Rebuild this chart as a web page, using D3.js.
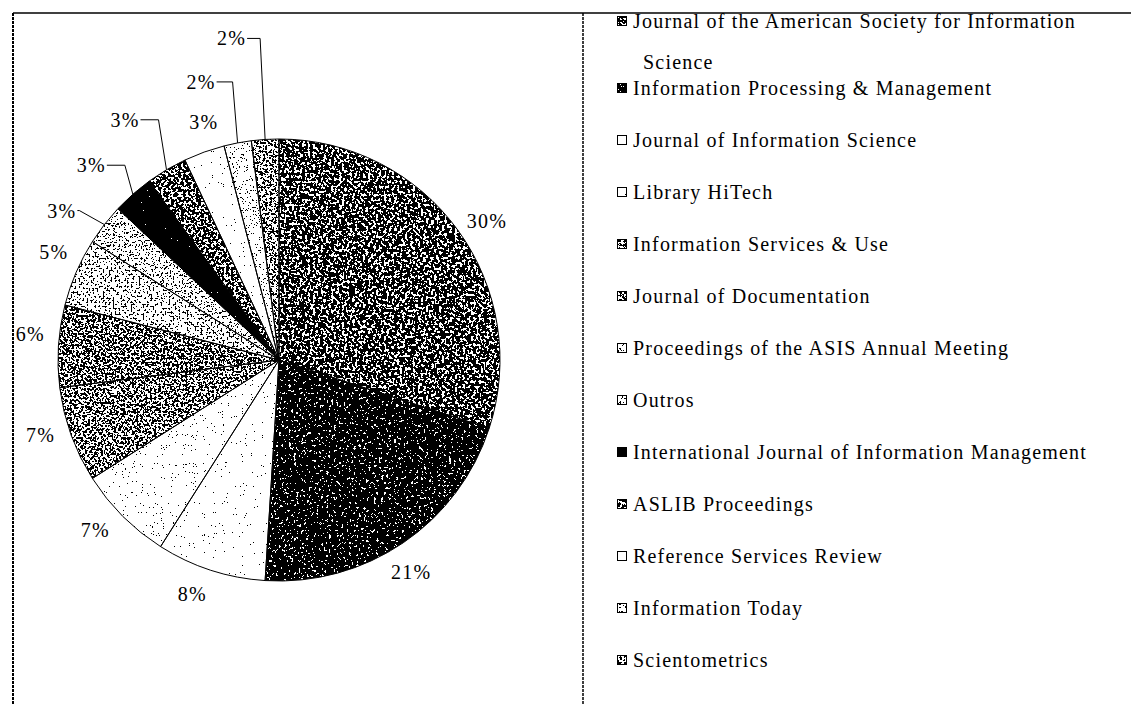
<!DOCTYPE html>
<html>
<head>
<meta charset="utf-8">
<script src="https://cdn.jsdelivr.net/npm/d3@7"></script>
<style>
  html, body { margin: 0; padding: 0; background: #fff; }
  svg text {
    font-family: "Liberation Serif", "Times New Roman", serif;
    font-size: 20px;
    letter-spacing: 1.2px;
    fill: #000;
  }
</style>
</head>
<body>
<svg id="chart" width="1131" height="704"></svg>
<script>
// journals, clockwise from 12 o'clock (same order as the legend)
var journals = [
  "Journal of the American Society for Information Science",
  "Information Processing & Management",
  "Journal of Information Science",
  "Library HiTech",
  "Information Services & Use",
  "Journal of Documentation",
  "Proceedings of the ASIS Annual Meeting",
  "Outros",
  "International Journal of Information Management",
  "ASLIB Proceedings",
  "Reference Services Review",
  "Information Today",
  "Scientometrics"
];
var shares = [30, 21, 8, 7, 7, 6, 5, 3, 3, 3, 3, 2, 2];
var pctLabels = ["30%", "21%", "8%", "7%", "7%", "6%", "5%", "3%", "3%", "3%", "3%", "2%", "2%"];

// stipple of each slice: share of black pixels, grain frequency
var darkness = [0.66, 0.88, 0.02, 0.035, 0.48, 0.52, 0.28, 0.2, 0.985, 0.58, 0.02, 0.1, 0.42];
var grain    = [0.38, 0.4, 0.9, 0.9, 0.45, 0.45, 0.5, 0.55, 0.5, 0.4, 0.9, 0.7, 0.45];

// leader lines for the small slices: [dx, rise, tail]
var leaders = {
  "Outros": [-25, 14, 2],
  "International Journal of Information Management": [-8, 29, 18],
  "ASLIB Proceedings": [-8, 50, 18],
  "Information Today": [-5, 61, 16],
  "Scientometrics": [-5, 101, 13]
};

var W = 1131, H = 704;
var cx = 279, cy = 360, R = 221, labelR = 250;

var data = journals.map(function(name, i) {
  return { name: name, value: shares[i], label: pctLabels[i], dark: darkness[i], freq: grain[i] };
});

var svg = d3.select("#chart");
var defs = svg.append("defs");

// inverse normal cdf, rough (Winitzki)
function probit(p) {
  var x = 2 * p - 1, a = 0.147;
  var ln = Math.log(1 - x * x);
  var t = 2 / (Math.PI * a) + ln / 2;
  var e = Math.sign(x) * Math.sqrt(Math.sqrt(t * t - ln / a) - t);
  return Math.SQRT2 * e;
}

// one noise texture filter per slice
data.forEach(function(d, i) {
  var p = Math.min(0.998, Math.max(0.002, d.dark));
  var thr = 0.5 + 0.13 * probit(p);
  var n = 400, table = [];
  for (var k = 0; k < n; k++) table.push(k / n < thr ? 0 : 1);

  var f = defs.append("filter")
    .attr("id", "tex" + i)
    .attr("color-interpolation-filters", "sRGB")
    .attr("x", "-5%").attr("y", "-5%")
    .attr("width", "110%").attr("height", "110%");
  f.append("feTurbulence")
    .attr("type", "fractalNoise")
    .attr("baseFrequency", d.freq)
    .attr("numOctaves", 2)
    .attr("seed", i * 7 + 3)
    .attr("result", "noise");
  f.append("feColorMatrix")
    .attr("in", "noise")
    .attr("type", "matrix")
    .attr("values", "1 0 0 0 0  1 0 0 0 0  1 0 0 0 0  0 0 0 0 1")
    .attr("result", "gray");
  var ct = f.append("feComponentTransfer").attr("in", "gray").attr("result", "bw");
  ["feFuncR", "feFuncG", "feFuncB"].forEach(function(fn) {
    ct.append(fn).attr("type", "discrete").attr("tableValues", table.join(" "));
  });
  f.append("feComposite")
    .attr("in", "bw").attr("in2", "SourceAlpha").attr("operator", "in");
});

// frame
svg.append("line")
  .attr("x1", 13).attr("x2", W).attr("y1", 13).attr("y2", 13)
  .attr("stroke", "#000").attr("stroke-width", 1.5);
svg.append("line")
  .attr("x1", 13).attr("x2", 13).attr("y1", 13).attr("y2", H)
  .attr("stroke", "#000").attr("stroke-width", 2)
  .attr("stroke-dasharray", "3 1");
svg.append("line")
  .attr("x1", 583).attr("x2", 583).attr("y1", 13).attr("y2", H)
  .attr("stroke", "#000").attr("stroke-width", 1.5)
  .attr("stroke-dasharray", "3 1");

// pie
var pie = d3.pie().sort(null).value(function(d) { return d.value; });
var arcs = pie(data);
var arc = d3.arc().innerRadius(0).outerRadius(R);

var g = svg.append("g").attr("transform", "translate(" + cx + "," + cy + ")");

g.selectAll("path.slice")
  .data(arcs)
  .enter()
  .append("path")
  .attr("class", "slice")
  .attr("d", arc)
  .attr("fill", "#fff")
  .attr("filter", function(d, i) { return "url(#tex" + i + ")"; });

g.selectAll("path.edge")
  .data(arcs)
  .enter()
  .append("path")
  .attr("class", "edge")
  .attr("d", arc)
  .attr("fill", "none")
  .attr("stroke", "#000")
  .attr("stroke-width", 1);

function polar(a, r) {
  return [r * Math.sin(a), -r * Math.cos(a)];
}

// percent labels
arcs.forEach(function(d) {
  var mid = (d.startAngle + d.endAngle) / 2;
  var lead = leaders[d.data.name];
  if (lead) {
    var e = polar(mid, R);
    var elbow = [e[0] + lead[0], e[1] - lead[1]];
    var end = [elbow[0] - lead[2], elbow[1]];
    g.append("path")
      .attr("d", d3.line()([e, elbow, end]))
      .attr("fill", "none")
      .attr("stroke", "#000")
      .attr("stroke-width", 1);
    g.append("text")
      .attr("x", end[0] - 1)
      .attr("y", end[1])
      .attr("dy", "0.35em")
      .attr("text-anchor", "end")
      .text(d.data.label);
  } else {
    var p = polar(mid + 0.04, labelR);
    g.append("text")
      .attr("x", p[0])
      .attr("y", p[1])
      .attr("dy", "0.35em")
      .attr("text-anchor", "middle")
      .text(d.data.label);
  }
});

// legend
var legX = 617, textX = 633, maxW = W - textX - 6;
var rowY = d3.scaleLinear().domain([0, 1]).range([36, 88]);
var legend = svg.append("g");

data.forEach(function(d, i) {
  var yc = rowY(i);
  var t = legend.append("text").attr("x", textX);
  // wrap by measured width
  var words = d.name.split(" "), lines = [], cur = "";
  var probe = legend.append("text").attr("x", -999);
  words.forEach(function(w) {
    var test = cur ? cur + " " + w : w;
    probe.text(test);
    if (probe.node().getComputedTextLength() > maxW && cur) {
      lines.push(cur);
      cur = w;
    } else {
      cur = test;
    }
  });
  lines.push(cur);
  probe.remove();

  var y0 = lines.length > 1 ? yc - 15 : yc;
  lines.forEach(function(s, k) {
    t.append("tspan")
      .attr("x", textX + (k > 0 ? 10 : 0))
      .attr("y", y0 + k * 41)
      .attr("dy", "0.35em")
      .text(s);
  });

  legend.append("rect")
    .attr("x", legX).attr("y", y0 - 5)
    .attr("width", 10).attr("height", 10)
    .attr("fill", "#fff")
    .attr("filter", "url(#tex" + i + ")");
  legend.append("rect")
    .attr("x", legX + 0.5).attr("y", y0 - 4.5)
    .attr("width", 9).attr("height", 9)
    .attr("fill", "none")
    .attr("stroke", "#000")
    .attr("stroke-width", 1);
});
</script>
</body>
</html>
